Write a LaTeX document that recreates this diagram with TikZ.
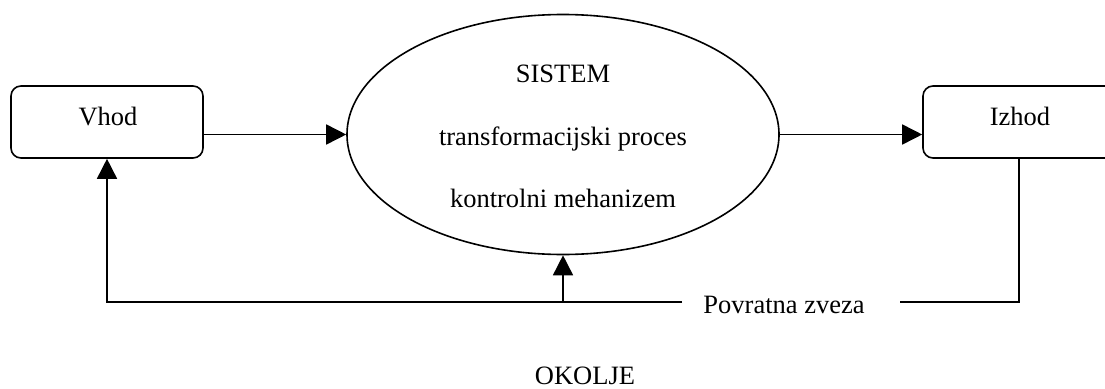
\documentclass[tikz,border=0pt]{standalone}
\usepackage{fontspec}
\setmainfont{Liberation Serif}
\usetikzlibrary{arrows.meta,shapes.geometric}
\begin{document}
\begin{tikzpicture}[x=1pt,y=-1pt,
  line width=1.6pt,
  every node/.style={font=\fontsize{26.5}{31}\selectfont},
  blockbox/.style={draw, rounded corners=10pt, minimum width=192pt, minimum height=72pt, inner sep=0pt},
  sysshape/.style={draw, ellipse, minimum width=432pt, minimum height=240pt, inner sep=0pt},
  txt/.style={anchor=base, inner sep=0pt},
  flow/.style={-{Triangle[length=20pt,width=20pt]}}
]
\useasboundingbox (0,0) rectangle (1105,388);
\clip (0,0) rectangle (1105,388);

% blocks
\node[blockbox] (vhod) at (107,122) {};
\node[blockbox] (izhod) at (1019,122) {};
\node[sysshape] (sys) at (563,134.5) {};

% block labels
\node[txt] (vhodt) at (108,125) {Vhod};
\node[txt] (izhodt) at (1020,125) {Izhod};
\node[txt] (s1) at (563,82) {SISTEM};
\node[txt] (s2) at (563,145) {transformacijski proces};
\node[txt] (s3) at (563,207) {kontrolni mehanizem};
\node[txt] (povr) at (784,313) {Povratna zveza};
\node[txt] (okolje) at (585,384) {OKOLJE};

% feedback line ends around the label
\coordinate (gapR) at (900,302);
\coordinate (gapL) at (682,302);

% main flow
\draw[flow] (vhod.east |- sys.west) -- (sys.west);
\draw[flow] (sys.east) -- (izhod.west |- sys.east);

% feedback
\draw (izhod.south) |- (gapR);
\draw[flow] (gapL) -| (vhod.south);
\draw[flow] (sys.south |- gapL) -- (sys.south);
\end{tikzpicture}
\end{document}
